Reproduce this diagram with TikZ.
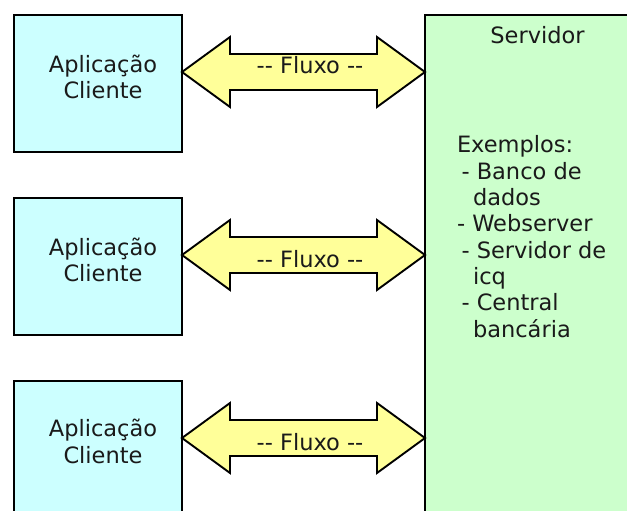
\documentclass[tikz,border=0pt]{standalone}
\usepackage{fontspec}
\setmainfont{DejaVu Sans}
\usetikzlibrary{calc}
\definecolor{clientfill}{HTML}{CCFFFF}
\definecolor{serverfill}{HTML}{CCFFCC}
\definecolor{flowfill}{HTML}{FFFF99}
\definecolor{ink}{HTML}{1A1A1A}
\tikzset{
  box/.style={draw=black, line width=1.9pt, inner sep=0pt, outer sep=0pt, anchor=north west},
  client/.style={box, fill=clientfill, minimum width=168pt, minimum height=137pt},
  server/.style={box, fill=serverfill, minimum width=230pt, minimum height=520pt},
  flow/.style={draw=black, line width=1.9pt, fill=flowfill, line join=miter},
  lbl/.style={inner sep=0pt, outer sep=0pt, font=\fontsize{22.5}{26.3}\selectfont, text=ink},
}
\newcommand{\fluxarrow}[3]{%
  \path (#1.east |- 0,#2) coordinate (#3l) (srv.west |- 0,#2) coordinate (#3r);
  \draw[flow] (#3l) -- ++(48,-35) -- ++(0,17) -- ($(#3r)+(-48,-18)$) -- ++(0,-17) -- (#3r)
    -- ++(-48,35) -- ++(0,-17) -- ($(#3l)+(48,18)$) -- ++(0,17) -- cycle;
}
\newcommand{\dd}{-{}-}
\begin{document}
\begin{tikzpicture}[x=1pt,y=-1pt]
\clip (0,0) rectangle (627,511);
\fill[white] (0,0) rectangle (627,511);
% boxes
\node[client] (c1) at (14,15) {};
\node[client] (c2) at (14,198) {};
\node[client, minimum height=160pt] (c3) at (14,381) {};
\node[server] (srv) at (425,15) {};
% arrows
\fluxarrow{c1}{72}{f1}
\fluxarrow{c2}{255}{f2}
\fluxarrow{c3}{438}{f3}
% labels (base anchor = baseline of last line)
\node[lbl, anchor=base, align=center] (t1) at (103,98.5) {Aplicação\\Cliente};
\node[lbl, anchor=base, align=center] (t2) at (103,281.5) {Aplicação\\Cliente};
\node[lbl, anchor=base, align=center] (t3) at (103,463) {Aplicação\\Cliente};
\node[lbl, anchor=base] (x1) at (310,74) {\dd{} Fluxo \dd};
\node[lbl, anchor=base] (x2) at (310,267.5) {\dd{} Fluxo \dd};
\node[lbl, anchor=base] (x3) at (310,450.5) {\dd{} Fluxo \dd};
\node[lbl, anchor=base] (st) at (537.5,44) {Servidor};
\node[lbl, anchor=base west, align=left] (sl) at (457,337) {Exemplos:\\
\hspace*{4.5pt}- Banco de\\
\hspace*{16pt}dados\\
- Webserver\\
\hspace*{4.5pt}- Servidor de\\
\hspace*{16pt}icq\\
\hspace*{4.5pt}- Central\\
\hspace*{16pt}bancária};
\end{tikzpicture}
\end{document}
